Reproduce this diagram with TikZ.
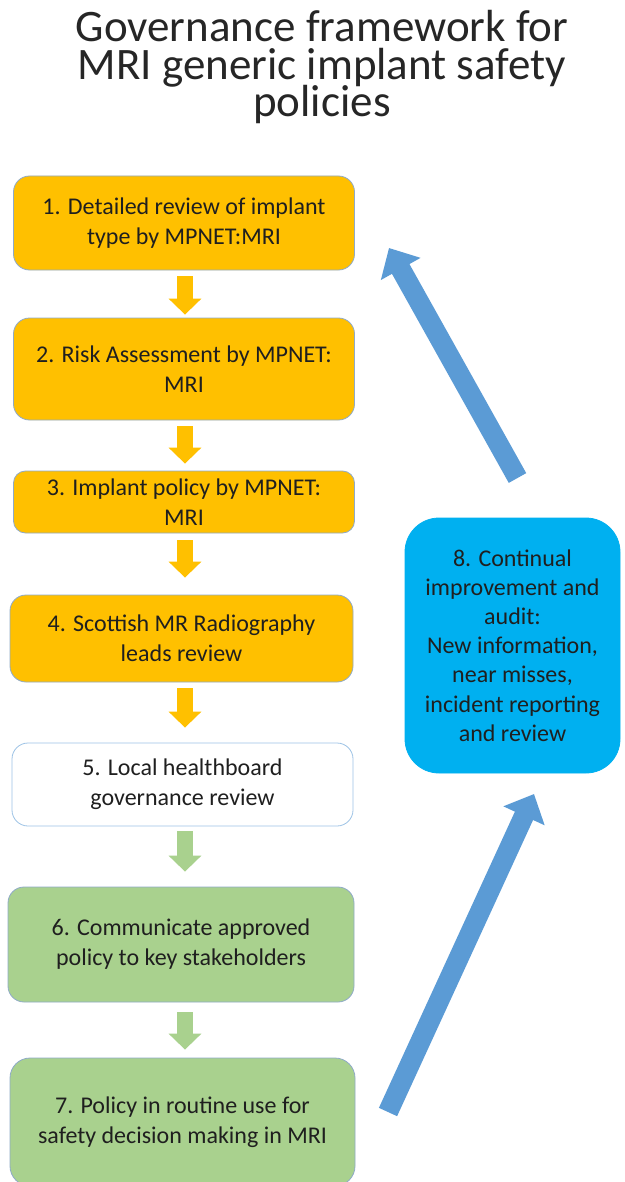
\documentclass[tikz,border=0pt]{standalone}
\usepackage{fontspec}
\setmainfont{Carlito}
\usetikzlibrary{arrows.meta}

\definecolor{stepgold}{HTML}{FFC000}
\definecolor{stepgreen}{HTML}{A9D18E}
\definecolor{loopcyan}{HTML}{00B0F0}
\definecolor{loopblue}{HTML}{5B9BD5}
\definecolor{edgeblue}{HTML}{8FAAC8}
\definecolor{edgelight}{HTML}{9DC3E6}

\tikzset{
  stepbox/.style={rectangle, rounded corners=16pt, draw=edgeblue, line width=0.8pt,
    align=center, inner sep=0pt, font=\fontsize{24}{30}\selectfont, text=black!88},
  goldbox/.style={stepbox, fill=stepgold},
  greenbox/.style={stepbox, fill=stepgreen},
  plainbox/.style={stepbox, fill=white, draw=edgelight},
  downarrow/.style={line width=16pt, -{Triangle[width=32pt,length=16pt]}},
  looparrow/.style={draw=loopblue, line width=20pt, -{Triangle[width=44pt,length=24pt]}},
  titletext/.style={font=\fontsize{45}{38}\selectfont, text=black!85, inner sep=0pt},
}

\begin{document}
\begin{tikzpicture}[x=1pt,y=-1pt]
  \useasboundingbox[fill=white] (0,0) rectangle (624,1182);

  % title, one line per node
  \node[titletext, anchor=base] (title1) at (322,42) {Governance framework for};
  \node[titletext, anchor=base] (title2) at (322,80) {MRI generic implant safety};
  \node[titletext, anchor=base] (title3) at (322,117) {policies};

  % process steps
  \node[goldbox, minimum width=341pt, minimum height=94pt] (b1) at (184,223)
    {1. Detailed review of implant\\type by MPNET:MRI};
  \node[goldbox, minimum width=341pt, minimum height=102pt] (b2) at (184,369)
    {2. Risk Assessment by MPNET:\\MRI};
  \node[goldbox, rounded corners=12pt, minimum width=341pt, minimum height=62pt] (b3) at (184,502)
    {3. Implant policy by MPNET:\\MRI};
  \node[goldbox, minimum width=343pt, minimum height=87pt] (b4) at (181.5,638.5)
    {4. Scottish MR Radiography\\leads review};
  \node[plainbox, minimum width=341pt, minimum height=83pt] (b5) at (182.5,784.5)
    {5. Local healthboard\\governance review};
  \node[greenbox, minimum width=346pt, minimum height=115pt] (b6) at (181,944.5)
    {6. Communicate approved\\policy to key stakeholders};
  \node[greenbox, rounded corners=20pt, minimum width=345pt, minimum height=128pt] (b7) at (182.5,1122)
    {7. Policy in routine use for\\safety decision making in MRI};

  % feedback step
  \node[stepbox, fill=loopcyan, draw=loopcyan, rounded corners=34pt,
        minimum width=215pt, minimum height=255pt,
        font=\fontsize{24}{29.2}\selectfont] (b8) at (512.5,645.5)
    {8. Continual\\improvement and\\audit:\\New information,\\near misses,\\incident reporting\\and review};

  % block arrows down the column
  \coordinate (ax) at (185,0);
  \draw[downarrow, stepgold, shorten <=6pt, shorten >=3pt] (b1.south -| ax) -- (b2.north -| ax);
  \draw[downarrow, stepgold, shorten <=6pt, shorten >=7pt] (b2.south -| ax) -- (b3.north -| ax);
  \draw[downarrow, stepgold, shorten <=7pt, shorten >=17pt] (b3.south -| ax) -- (b4.north -| ax);
  \draw[downarrow, stepgold, shorten <=6pt, shorten >=15pt] (b4.south -| ax) -- (b5.north -| ax);
  \draw[downarrow, stepgreen, shorten <=5pt, shorten >=15pt] (b5.south -| ax) -- (b6.north -| ax);
  \draw[downarrow, stepgreen, shorten <=10pt, shorten >=8pt] (b6.south -| ax) -- (b7.north -| ax);

  % feedback loop arrows
  \coordinate (upTail) at (517.5,478);
  \coordinate (upTip) at (389,248);
  \coordinate (inTail) at (388,1112);
  \coordinate (inTip) at (534,794);
  \draw[looparrow] (inTail) -- (inTip);
  \draw[looparrow] (upTail) -- (upTip);
\end{tikzpicture}
\end{document}
